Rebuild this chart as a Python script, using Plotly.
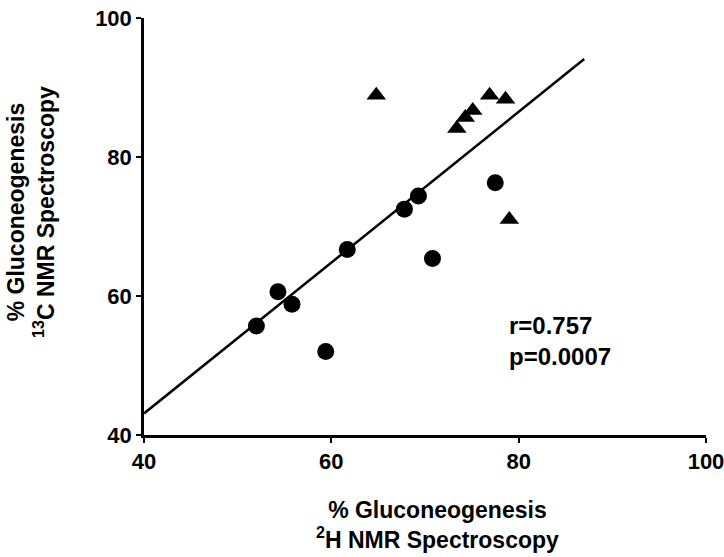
import plotly.graph_objects as go

# Data
circle_x = [52.0, 54.3, 55.8, 59.4, 61.7, 67.8, 69.3, 70.8, 77.5]
circle_y = [55.7, 60.6, 58.8, 52.0, 66.7, 72.5, 74.4, 65.4, 76.3]
tri_x = [64.8, 73.4, 74.3, 75.1, 76.9, 78.6, 79.0]
tri_y = [88.9, 84.1, 85.7, 86.7, 88.9, 88.3, 71.0]
line_x = [40.0, 87.0]
line_y = [43.1, 94.1]
tick_vals = [40, 60, 80, 100]
stats_text = "r=0.757<br>p=0.0007"
x_title = "% Gluconeogenesis<br><sup>2</sup>H NMR Spectroscopy"
y_title = "% Gluconeogenesis<br><sup>13</sup>C NMR Spectroscopy"

FONT = "Liberation Sans, Arial, sans-serif"

fig = go.Figure()
fig.add_trace(go.Scatter(x=line_x, y=line_y, mode="lines",
                         line=dict(color="black", width=2.5), showlegend=False,
                         cliponaxis=False))
fig.add_trace(go.Scatter(x=circle_x, y=circle_y, mode="markers",
                         marker=dict(symbol="circle", size=17, color="black"),
                         showlegend=False, cliponaxis=False))
fig.add_trace(go.Scatter(x=tri_x, y=tri_y, mode="markers",
                         marker=dict(symbol="triangle-up", size=17, color="black"),
                         showlegend=False, cliponaxis=False))

axis_common = dict(
    range=[40, 100], tickvals=tick_vals, ticktext=[str(v) for v in tick_vals],
    showgrid=False, zeroline=False, showline=True, linecolor="black", linewidth=2.5,
    ticks="outside", ticklen=5, tickwidth=2, tickcolor="black", automargin=False,
    ticklabeloverflow="allow",
    tickfont=dict(family=FONT, size=22, color="black", weight="bold"),
)
fig.update_xaxes(**axis_common)
fig.update_yaxes(**axis_common)

fig.add_annotation(text=stats_text, x=78.75, y=53.5, xref="x", yref="y",
                   xanchor="left", yanchor="middle", align="left", showarrow=False,
                   font=dict(family=FONT, size=24, color="black", weight="bold"))
fig.add_annotation(text=x_title, x=0.523, y=-0.216, xref="paper", yref="paper",
                   xanchor="center", yanchor="middle", showarrow=False,
                   font=dict(family=FONT, size=23, color="black", weight="bold"))
fig.add_annotation(text=y_title, x=-0.201, y=0.535, xref="paper", yref="paper",
                   xanchor="center", yanchor="middle", showarrow=False, textangle=-90,
                   font=dict(family=FONT, size=23, color="black", weight="bold"))

fig.update_layout(
    width=724, height=557,
    margin=dict(l=144, r=18, t=18, b=122),
    plot_bgcolor="white", paper_bgcolor="white",
)
fig.write_html("out.html")
